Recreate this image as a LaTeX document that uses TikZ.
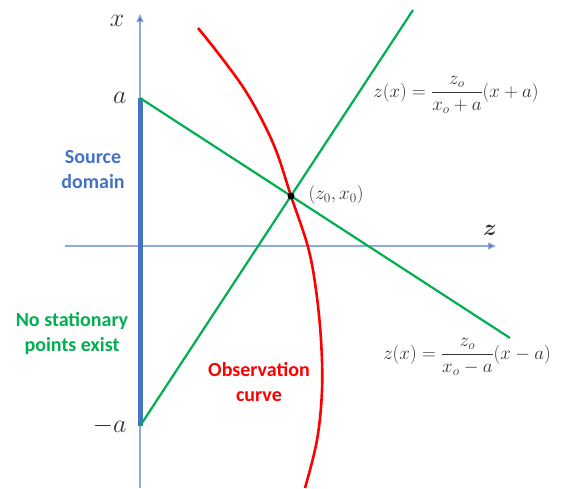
\RequirePackage{fix-cm}
\documentclass[tikz,border=0pt]{standalone}
\usepackage{amsmath}
\usepackage{fontspec}
\setmainfont{Carlito}
\usetikzlibrary{arrows.meta}
\definecolor{axisblue}{HTML}{8FAADC}
\definecolor{srcblue}{HTML}{4472C4}
\definecolor{lgreen}{HTML}{00B050}
\definecolor{mathgray}{HTML}{333333}

\begin{document}
\begin{tikzpicture}[x=1pt, y=1pt,
    axis/.style={axisblue, line width=1.2pt, -{Triangle[length=8pt, width=7pt, fill=srcblue]}},
    ray/.style={lgreen, line width=2.2pt},
    lbl/.style={font=\bfseries\fontsize{20}{25}\selectfont, align=center},
    eq/.style={mathgray, font=\fontsize{19}{22}\selectfont},
    axlbl/.style={mathgray, font=\fontsize{26}{28}\selectfont}]
    \useasboundingbox (-140, -242) rectangle (424, 246);

    % Axes
    \draw[axis] (0, -242) -- (0, 232) coordinate (xtop);
    \draw[axis] (-75, 0) -- (356, 0) coordinate (zend);
    \node[axlbl] (xlab) at (-23, 225) {$x$};
    \node[axlbl, font=\bfseries\fontsize{23}{26}\selectfont] (zlab) at (350, 16) {$\boldsymbol{z}$};

    % Source domain
    \coordinate (A) at (0, 148);
    \coordinate (mA) at (0, -180);
    \draw[srcblue, line width=5pt] (A) -- (mA);
    \node[axlbl, anchor=east] (alab) at (-10, 148) {$a$};
    \node[axlbl, anchor=east] (malab) at (-10, -180) {$-a$};

    % Observation curve
    \draw[red, line width=2.6pt] plot[smooth, tension=0.6] coordinates {(58, 218) (78, 193) (103, 159) (122, 126) (137, 93) (151, 50) (168, -1) (176, -44) (181, -94) (182, -144) (177, -194) (165, -242)};

    % Lines through the stationary point
    \coordinate (P) at (151, 50);
    \coordinate (endA) at (370, -92);
    \coordinate (endmA) at (273, 236);
    \draw[ray] (A) -- (endA);
    \draw[ray] (mA) -- (endmA);
    \fill (P) circle (3.5pt);
    \node[eq, anchor=west] (plab) at (165, 51) {$(z_0, x_0)$};

    % Equations
    \node[eq] (eqA) at (316, 151) {$z(x) = \dfrac{z_o}{x_o + a}(x + a)$};
    \node[eq] (eqmA) at (327, -111) {$z(x) = \dfrac{z_o}{x_o - a}(x - a)$};

    % Text labels
    \node[lbl, srcblue] (src) at (-47, 76) {Source\\domain};
    \node[lbl, lgreen] (nostat) at (-68, -88) {No stationary\\points exist};
    \node[lbl, red] (obs) at (119, -136) {Observation\\curve};
\end{tikzpicture}
\end{document}
